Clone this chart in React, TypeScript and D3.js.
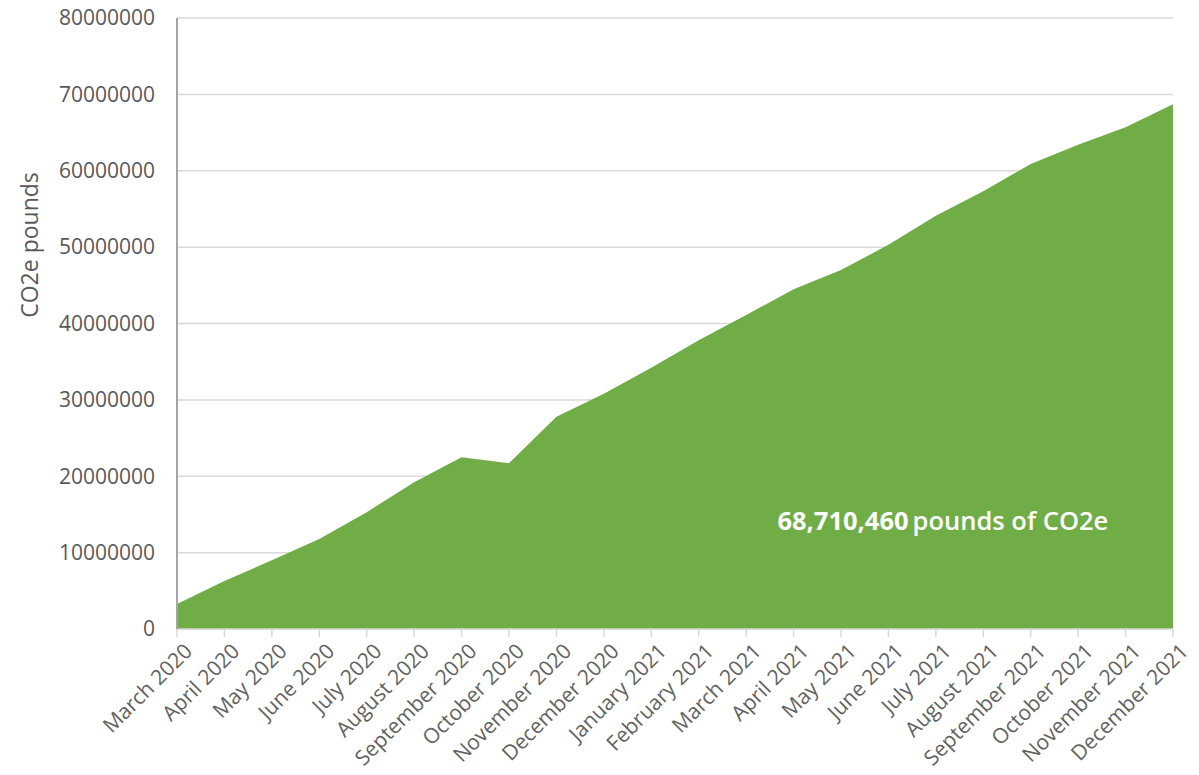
import * as d3 from 'd3'

const months = [
  'March 2020', 'April 2020', 'May 2020', 'June 2020', 'July 2020', 'August 2020',
  'September 2020', 'October 2020', 'November 2020', 'December 2020', 'January 2021',
  'February 2021', 'March 2021', 'April 2021', 'May 2021', 'June 2021', 'July 2021',
  'August 2021', 'September 2021', 'October 2021', 'November 2021', 'December 2021',
]

const pounds = [
  3270000, 6300000, 9000000, 11800000, 15300000, 19200000, 22500000, 21700000,
  27800000, 30800000, 34200000, 37800000, 41100000, 44500000, 47000000, 50300000,
  54100000, 57300000, 60900000, 63400000, 65700000, 68710460,
]

const yTicks = [0, 10000000, 20000000, 30000000, 40000000, 50000000, 60000000, 70000000, 80000000]

const W = 1199
const H = 775
const margin = { top: 18, right: 26, bottom: 146, left: 177 }
const font = '"Open Sans", "Noto Sans", sans-serif'

export default function App() {
  const innerW = W - margin.left - margin.right
  const innerH = H - margin.top - margin.bottom

  const x = d3.scalePoint<string>().domain(months).range([0, innerW])
  const y = d3.scaleLinear().domain([0, 80000000]).range([innerH, 0])

  const area = d3
    .area<number>()
    .x((_, i) => x(months[i]) ?? 0)
    .y0(innerH)
    .y1((d) => y(d))

  const total = d3.format(',')(pounds[pounds.length - 1])

  return (
    <svg width={W} height={H} style={{ position: 'absolute', left: 0, top: 0, background: '#fff' }}>
      <g transform={`translate(${margin.left},${margin.top})`}>
        {yTicks.map((t) => (
          <g key={t}>
            <line x1={0} x2={innerW} y1={y(t)} y2={y(t)} stroke="#d9d9d9" strokeWidth={1.5} />
            <text
              x={-22}
              y={y(t)}
              dy="0.35em"
              textAnchor="end"
              fontFamily={font}
              fontSize={21}
              fill="#595959"
            >
              {t}
            </text>
          </g>
        ))}

        <path d={area(pounds) ?? ''} fill="#70ad47" />

        {months.map((m) => (
          <g key={m} transform={`translate(${x(m)},${innerH})`}>
            <line y1={0} y2={8} stroke="#d9d9d9" strokeWidth={1.5} />
            <text
              transform="translate(6,13) rotate(-45)"
              textAnchor="end"
              dy="0.7em"
              fontFamily={font}
              fontSize={21}
              fill="#626262"
            >
              {m}
            </text>
          </g>
        ))}

        <line x1={0} x2={innerW} y1={innerH} y2={innerH} stroke="#d9d9d9" strokeWidth={1.5} />
        <line x1={0} x2={0} y1={0} y2={innerH} stroke="#a6a6a6" strokeWidth={2} />

        <text
          x={x('June 2021')! - 111}
          y={y(13000000)}
          fontFamily={font}
          fontSize={25.5}
          fill="#fff"
        >
          <tspan fontWeight={700}>{total}</tspan>
          <tspan dx={4} fontWeight={600}>pounds of CO2e</tspan>
        </text>
      </g>

      <text
        transform="translate(38,245) rotate(-90)"
        textAnchor="middle"
        fontFamily={font}
        fontSize={23}
        fill="#595959"
      >
        CO2e pounds
      </text>
    </svg>
  )
}
